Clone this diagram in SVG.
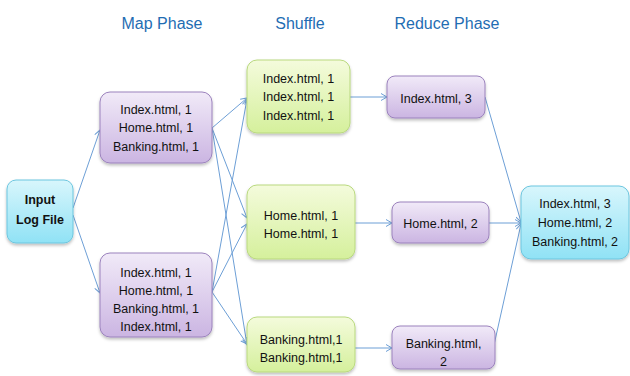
<svg xmlns="http://www.w3.org/2000/svg" width="630" height="376" viewBox="0 0 630 376">
<style>
.hdr{font-family:"Liberation Sans",Arial,sans-serif;font-size:16px;fill:#1f6db3;text-anchor:middle}
.t{font-family:"Liberation Sans",Arial,sans-serif;font-size:12.5px;fill:#111;text-anchor:middle}
.tb{font-family:"Liberation Sans",Arial,sans-serif;font-size:12.5px;font-weight:bold;fill:#111;text-anchor:middle}
.purple{fill:url(#gp);stroke:#9b82bd;stroke-width:1}
.green{fill:url(#gg);stroke:#b9d97e;stroke-width:1}
.cyan{fill:url(#gc);stroke:#6cc6df;stroke-width:1}
.box{filter:url(#sh)}
.c line{stroke:#6d9fd6;stroke-width:1;marker-end:url(#ah)}
</style>
<defs>
<linearGradient id="gp" x1="0" y1="0" x2="0" y2="1"><stop offset="0" stop-color="#f1eaf8"/><stop offset="1" stop-color="#cbb5e2"/></linearGradient>
<linearGradient id="gg" x1="0" y1="0" x2="0" y2="1"><stop offset="0" stop-color="#f4fbdc"/><stop offset="1" stop-color="#d5f09c"/></linearGradient>
<linearGradient id="gc" x1="0" y1="0" x2="0" y2="1"><stop offset="0" stop-color="#d8f6fc"/><stop offset="1" stop-color="#90e2f5"/></linearGradient>
<filter id="sh" x="-10%" y="-10%" width="130%" height="140%"><feDropShadow dx="0" dy="2" stdDeviation="1.5" flood-color="#000" flood-opacity="0.25"/></filter>
<marker id="ah" markerWidth="8" markerHeight="8" refX="7" refY="4" orient="auto" markerUnits="userSpaceOnUse"><path d="M1,0.5 L7,4 L1,7.5" fill="none" stroke="#6d9fd6" stroke-width="1"/></marker>
</defs>
<text class="hdr" x="162" y="29">Map Phase</text>
<text class="hdr" x="300" y="29">Shuffle</text>
<text class="hdr" x="447" y="29">Reduce Phase</text>

<g class="c" id="connectors">
<line x1="73" y1="208" x2="100" y2="130"/>
<line x1="73" y1="215" x2="100" y2="293"/>
<line x1="212" y1="128" x2="247" y2="98"/>
<line x1="212" y1="128" x2="247" y2="218"/>
<line x1="212" y1="128" x2="247" y2="345"/>
<line x1="212" y1="292" x2="247" y2="99"/>
<line x1="212" y1="292" x2="247" y2="224"/>
<line x1="212" y1="292" x2="247" y2="344"/>
<line x1="350" y1="97" x2="387" y2="97"/>
<line x1="355" y1="223" x2="392" y2="223"/>
<line x1="355" y1="348" x2="392" y2="348"/>
<line x1="485" y1="97" x2="521" y2="222"/>
<line x1="489" y1="223" x2="521" y2="223"/>
<line x1="494" y1="345" x2="521" y2="224"/>
</g>

<g id="input"><rect class="box cyan" x="7" y="180" width="66" height="63" rx="9"/>
<text class="tb" x="40" y="204">Input</text><text class="tb" x="40" y="224">Log File</text></g>

<g id="map1"><rect class="box purple" x="100" y="92" width="112" height="71" rx="10"/>
<text class="t" x="156" y="113.5">Index.html, 1</text><text class="t" x="156" y="132">Home.html, 1</text><text class="t" x="156" y="150.5">Banking.html, 1</text></g>

<g id="map2"><rect class="box purple" x="100" y="253" width="112" height="84" rx="10"/>
<text class="t" x="156" y="276.5">Index.html, 1</text><text class="t" x="156" y="294.5">Home.html, 1</text><text class="t" x="156" y="312.5">Banking.html, 1</text><text class="t" x="156" y="331">Index.html, 1</text></g>

<g id="shuffle1"><rect class="box green" x="247" y="60" width="103" height="73" rx="10"/>
<text class="t" x="298.5" y="82.5">Index.html, 1</text><text class="t" x="298.5" y="101">Index.html, 1</text><text class="t" x="298.5" y="119.5">Index.html, 1</text></g>

<g id="shuffle2"><rect class="box green" x="247" y="185" width="108" height="74" rx="10"/>
<text class="t" x="301" y="219.5">Home.html, 1</text><text class="t" x="301" y="237.5">Home.html, 1</text></g>

<g id="shuffle3"><rect class="box green" x="247" y="317" width="108" height="55" rx="10"/>
<text class="t" x="301" y="343.5">Banking.html,1</text><text class="t" x="301" y="361.5">Banking.html,1</text></g>

<g id="reduce1"><rect class="box purple" x="387" y="76" width="98" height="42" rx="8"/>
<text class="t" x="436" y="102.5">Index.html, 3</text></g>

<g id="reduce2"><rect class="box purple" x="392" y="202" width="97" height="41" rx="8"/>
<text class="t" x="440.5" y="227.5">Home.html, 2</text></g>

<g id="reduce3"><rect class="box purple" x="392" y="326" width="103" height="43" rx="8"/>
<text class="t" x="443.5" y="347.5">Banking.html,</text><text class="t" x="443.5" y="365.5">2</text></g>

<g id="output"><rect class="box cyan" x="521" y="186" width="108" height="73" rx="10"/>
<text class="t" x="575" y="207.5">Index.html, 3</text><text class="t" x="575" y="226.5">Home.html, 2</text><text class="t" x="575" y="245.5">Banking.html, 2</text></g>
</svg>
